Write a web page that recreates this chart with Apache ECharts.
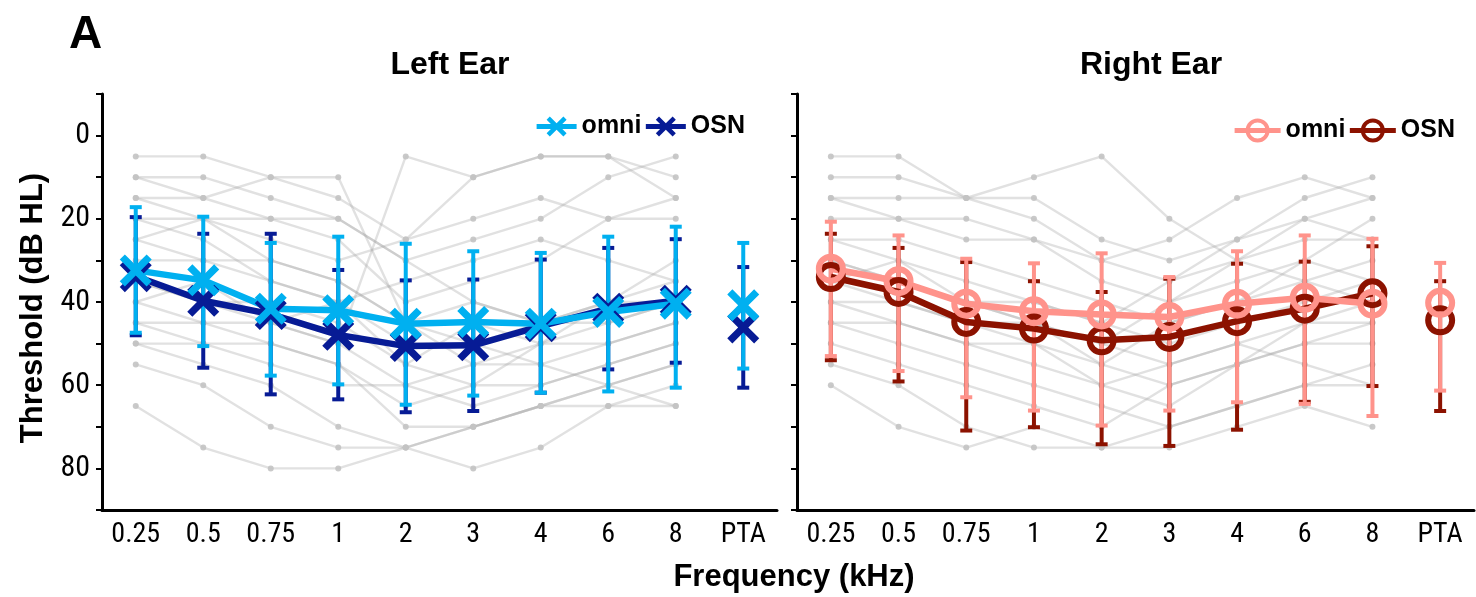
<!DOCTYPE html>
<html>
<head>
<meta charset="utf-8">
<script src="https://cdn.jsdelivr.net/npm/echarts@6/dist/echarts.min.js"></script>
<style>
html,body{margin:0;padding:0;background:#fff;}
#chart{width:1476px;height:597px;}
</style>
</head>
<body>
<div id="chart"></div>
<script>
// ---------- data ----------
const categories = ['0.25','0.5','0.75','1','2','3','4','6','8','PTA'];
const yTicks = [0, 20, 40, 60, 80];

// Left ear group means and error bar ends (dB HL)
const leftOmniMean = [32.4, 34.8, 41.6, 42.0, 45.2, 44.8, 45.2, 42.4, 40.4, 40.8];
const leftOmniLow  = [17.2, 19.5, 25.8, 24.3, 26.0, 27.8, 28.2, 24.3, 21.9, 25.8];
const leftOmniHigh = [47.4, 50.6, 57.7, 59.8, 64.7, 62.5, 61.8, 61.5, 60.6, 56.0];
const leftOsnMean  = [33.8, 39.7, 42.9, 47.9, 50.6, 50.4, 45.8, 41.6, 39.7, 46.1];
const leftOsnLow   = [19.6, 23.6, 23.6, 32.3, 34.8, 34.6, 29.8, 27.0, 24.9, 31.6];
const leftOsnHigh  = [48.0, 55.8, 62.2, 63.4, 66.5, 66.2, 61.8, 56.2, 54.6, 60.6];

// Right ear group means and error bar ends (dB HL)
const rightOmniMean = [32.0, 35.0, 40.4, 42.2, 43.0, 43.6, 40.4, 39.0, 40.4, 40.2];
const rightOmniLow  = [20.7, 24.0, 29.6, 30.7, 28.3, 34.0, 27.8, 24.0, 24.8, 30.6];
const rightOmniHigh = [53.0, 56.6, 62.9, 66.1, 69.7, 66.1, 64.1, 64.5, 67.4, 61.3];
const rightOsnMean  = [34.0, 37.6, 44.8, 46.4, 49.2, 48.4, 44.6, 41.6, 37.9, 44.4];
const rightOsnLow   = [23.6, 27.0, 30.4, 35.0, 37.6, 34.4, 30.8, 30.3, 26.6, 35.0];
const rightOsnHigh  = [54.0, 59.1, 70.9, 70.1, 74.2, 74.6, 70.7, 64.0, 60.2, 66.2];

// Individual listeners (0.25 ... 8 kHz)
const leftSubjects = [
  [5,5,10,15,25,20,15,20,15],
  [10,10,15,20,30,25,20,10,5],
  [15,20,20,25,40,35,30,20,20],
  [15,15,10,10,45,40,45,45,40],
  [20,20,25,30,25,10,5,5,15],
  [25,20,30,35,45,55,55,50,45],
  [30,30,35,40,35,30,25,30,35],
  [35,40,40,45,55,60,50,40,35],
  [20,25,35,40,50,50,45,40,40],
  [40,45,45,50,60,65,60,55,50],
  [40,35,45,40,55,45,50,45,40],
  [45,50,50,55,70,70,65,60,55],
  [50,55,60,70,75,70,65,65,60],
  [55,60,70,75,75,80,75,65,65],
  [65,75,80,80,75,70,65,60,65],
  [35,40,45,50,5,10,5,5,10],
  [25,30,30,35,45,50,55,60,55],
  [45,45,50,55,65,60,60,55,50],
  [50,50,55,60,60,55,50,50,45],
  [10,15,20,20,30,40,45,40,30]
];
const rightSubjects = [
  [5,5,15,15,25,30,25,20,25],
  [10,10,15,10,5,20,30,35,30],
  [15,15,15,20,30,25,15,10,15],
  [20,20,20,25,35,40,35,30,20],
  [25,25,30,35,40,45,40,35,40],
  [30,35,40,40,45,50,45,40,35],
  [35,40,45,45,50,55,50,45,45],
  [40,45,50,55,60,65,55,50,50],
  [45,50,55,60,65,70,65,60,55],
  [55,60,70,75,75,75,70,65,70],
  [60,70,75,70,75,70,65,60,60],
  [30,35,40,45,50,40,30,20,15],
  [35,30,35,40,45,35,25,15,10],
  [40,40,45,50,55,45,40,30,35],
  [50,55,60,65,70,60,55,50,45],
  [25,30,40,45,55,60,55,45,40],
  [45,45,50,50,60,55,50,55,60],
  [15,20,25,25,30,35,30,25,25]
];

// ---------- styles ----------
const C_LOMNI = '#00B0F0', C_LOSN = '#071B95';
const C_ROMNI = '#FF938B', C_ROSN = '#8C1200';
const NARROW = "'Liberation Sans Narrow','Arial Narrow','Roboto Condensed','Liberation Sans',sans-serif";
const SANS = "'Liberation Sans',Arial,Helvetica,sans-serif";
const X_SYMBOL = 'path://M0,16L16,0L50,34L84,0L100,16L66,50L100,84L84,100L50,66L16,100L0,84L34,50Z';

function errData(lo, hi) { return lo.map((v, i) => [i, v, hi[i]]); }
function errSeries(idx, lo, hi, color, lw, capW) {
  return {
    type: 'custom', xAxisIndex: idx, yAxisIndex: idx, silent: true, z: 3,
    encode: { x: 0, y: [1, 2] },
    data: errData(lo, hi),
    renderItem: function (params, api) {
      const x = api.value(0);
      const a = api.coord([x, api.value(1)]);
      const b = api.coord([x, api.value(2)]);
      const st = { stroke: color, lineWidth: lw };
      return { type: 'group', children: [
        { type: 'line', shape: { x1: a[0], y1: a[1], x2: b[0], y2: b[1] }, style: st },
        { type: 'line', shape: { x1: a[0] - capW / 2, y1: a[1], x2: a[0] + capW / 2, y2: a[1] }, style: st },
        { type: 'line', shape: { x1: b[0] - capW / 2, y1: b[1], x2: b[0] + capW / 2, y2: b[1] }, style: st }
      ]};
    }
  };
}
function subjectSeries(idx, rows) {
  return rows.map(r => ({
    type: 'line', xAxisIndex: idx, yAxisIndex: idx, silent: true, z: 1,
    data: r, symbol: 'circle', symbolSize: 6,
    lineStyle: { color: 'rgba(165,165,165,0.33)', width: 2.4 },
    itemStyle: { color: 'rgba(195,195,195,0.9)' },
    emphasis: { disabled: true }
  }));
}

function lineMean(idx, name, data, color, kind) {
  const s = {
    type: 'line', name: name, xAxisIndex: idx, yAxisIndex: idx, z: 4,
    data: data, silent: true,
    lineStyle: { color: color, width: 6.5 },
    emphasis: { disabled: true }
  };
  if (kind === 'x') {
    s.symbol = X_SYMBOL; s.symbolSize = 32;
    s.itemStyle = { color: color };
  } else {
    s.symbol = 'circle'; s.symbolSize = 24;
    s.itemStyle = { color: 'rgba(0,0,0,0)', borderColor: color, borderWidth: 6 };
  }
  return s;
}
// lines connect 0.25..8 only; PTA shown as separate point
function connected(arr) { return arr.slice(0, 9); }
function ptaOnly(arr) { return arr.map((v, i) => i === 9 ? v : '-'); }

const series = [];
series.push(...subjectSeries(0, leftSubjects));
series.push(...subjectSeries(1, rightSubjects));
series.push(errSeries(0, leftOsnLow, leftOsnHigh, C_LOSN, 4, 12));
series.push(errSeries(0, leftOmniLow, leftOmniHigh, C_LOMNI, 4, 12));
series.push(errSeries(1, rightOsnLow, rightOsnHigh, C_ROSN, 4, 12));
series.push(errSeries(1, rightOmniLow, rightOmniHigh, C_ROMNI, 4, 12));

series.push(lineMean(0, 'OSN L', connected(leftOsnMean), C_LOSN, 'x'));
series.push(lineMean(0, 'OSN L', ptaOnly(leftOsnMean), C_LOSN, 'x'));
series.push(lineMean(0, 'omni L', connected(leftOmniMean), C_LOMNI, 'x'));
series.push(lineMean(0, 'omni L', ptaOnly(leftOmniMean), C_LOMNI, 'x'));
series.push(lineMean(1, 'OSN R', connected(rightOsnMean), C_ROSN, 'o'));
series.push(lineMean(1, 'OSN R', ptaOnly(rightOsnMean), C_ROSN, 'o'));
series.push(lineMean(1, 'omni R', connected(rightOmniMean), C_ROMNI, 'o'));
series.push(lineMean(1, 'omni R', ptaOnly(rightOmniMean), C_ROMNI, 'o'));

function xAxis(idx) {
  return {
    type: 'category', gridIndex: idx, data: categories, boundaryGap: true, position: 'bottom',
    axisLine: { onZero: false, lineStyle: { color: '#000', width: 3 } },
    axisTick: { alignWithLabel: true, length: 6, lineStyle: { color: '#000', width: 2 } },
    axisLabel: { color: '#000', fontSize: 28, fontFamily: NARROW, margin: 11, interval: 0 },
    splitLine: { show: false }
  };
}
function yAxis(idx, labels) {
  return {
    type: 'value', gridIndex: idx, inverse: true, min: -10, max: 90, interval: 10,
    axisLine: { show: true, onZero: false, lineStyle: { color: '#000', width: 3 } },
    axisTick: { show: true, length: 6, lineStyle: { color: '#000', width: 2 } },
    axisLabel: {
      show: labels, color: '#000', fontSize: 30, fontFamily: NARROW, margin: 12,
      formatter: v => (yTicks.indexOf(v) >= 0 ? String(v) : '')
    },
    splitLine: { show: false }
  };
}

const legendCommon = {
  orient: 'horizontal', itemGap: 2, itemHeight: 25,
  textStyle: { fontSize: 25, fontWeight: 'bold', fontFamily: SANS, color: '#000' },
  formatter: n => n.split(' ')[0],
  selectedMode: false
};

const option = {
  animation: false,
  backgroundColor: '#fff',
  grid: [
    { left: 102, right: 699, top: 94, bottom: 87 },
    { left: 797, right: 2, top: 94, bottom: 87 }
  ],
  xAxis: [xAxis(0), xAxis(1)],
  yAxis: [yAxis(0, true), yAxis(1, false)],
  legend: [
    Object.assign({}, legendCommon, {
      data: ['omni L', 'OSN L'], right: 726, top: 109, itemWidth: 40,
      itemStyle: { borderWidth: 0 }, lineStyle: { width: 5 }
    }),
    Object.assign({}, legendCommon, {
      data: ['omni R', 'OSN R'], right: 16, top: 113, itemWidth: 46,
      itemStyle: { borderWidth: 4 }, lineStyle: { width: 5 }
    })
  ],
  graphic: [
    { type: 'text', left: 69, top: 12, style: { text: 'A', font: "bold 46px " + SANS, fill: '#000' } },
    { type: 'text', x: 450, y: 65, style: { text: 'Left Ear', font: "bold 32px " + SANS, fill: '#000', align: 'center', verticalAlign: 'middle' } },
    { type: 'text', x: 1151, y: 65, style: { text: 'Right Ear', font: "bold 32px " + SANS, fill: '#000', align: 'center', verticalAlign: 'middle' } },
    { type: 'text', x: 794, y: 577, style: { text: 'Frequency (kHz)', font: "bold 31px " + SANS, fill: '#000', align: 'center', verticalAlign: 'middle' } },
    { type: 'text', x: 33, y: 308, rotation: Math.PI / 2, style: { text: 'Threshold (dB HL)', font: "bold 31px " + SANS, fill: '#000', align: 'center', verticalAlign: 'middle' } }
  ],
  series: series
};

const chart = echarts.init(document.getElementById('chart'), null, { renderer: 'canvas' });
chart.setOption(option);
</script>
</body>
</html>
